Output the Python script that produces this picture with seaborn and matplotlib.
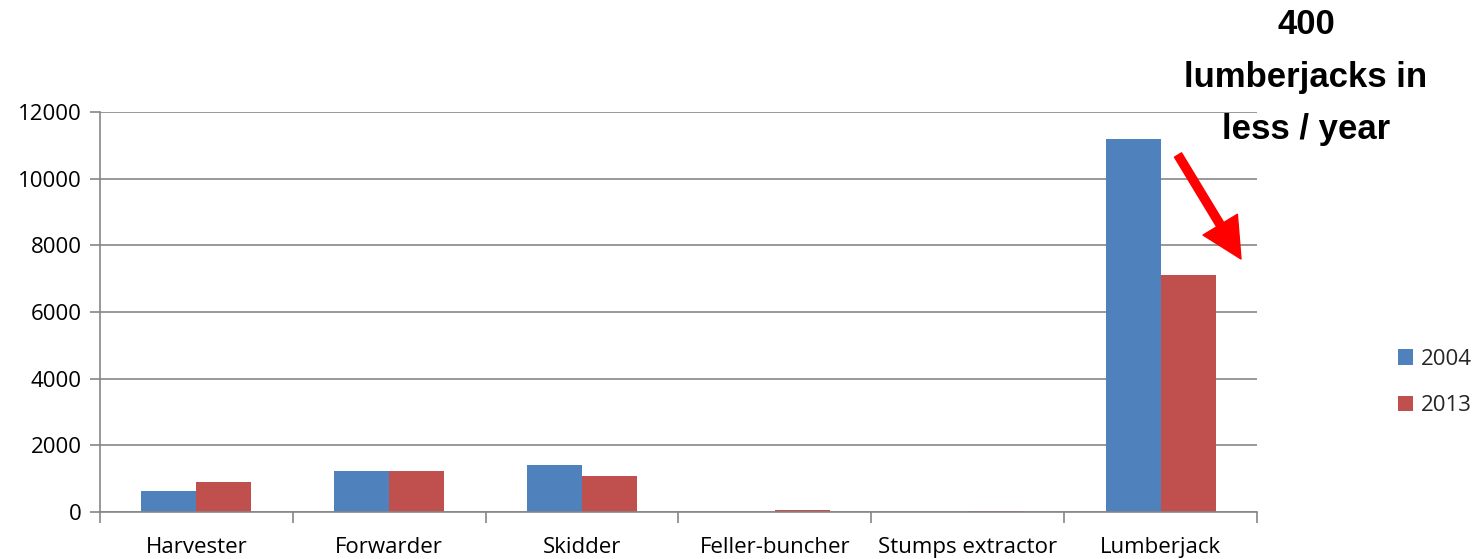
import matplotlib
matplotlib.use("Agg")
import matplotlib.pyplot as plt
import seaborn as sns
import pandas as pd
import numpy as np
from matplotlib.patches import Patch, FancyArrowPatch
from matplotlib import font_manager

categories = ["Harvester", "Forwarder", "Skidder", "Feller-buncher", "Stumps extractor", "Lumberjack"]
values_2004 = [623, 1216, 1397, 0, 0, 11200]
values_2013 = [894, 1236, 1075, 70, 40, 7100]
years = ["2004", "2013"]
y_ticks = [0, 2000, 4000, 6000, 8000, 10000, 12000]

df = pd.DataFrame({
    "category": categories * 2,
    "value": values_2004 + values_2013,
    "year": [years[0]] * len(categories) + [years[1]] * len(categories),
})

sns.set_theme(style="white")
plt.rcParams['font.family'] = ['Open Sans', 'DejaVu Sans']

# bold Liberation Sans (not Narrow)
bold_path = None
for f in font_manager.fontManager.ttflist:
    if f.name == "Liberation Sans" and f.weight in (700, "bold") and "Narrow" not in f.fname and f.style == "normal":
        bold_path = f.fname
        break

fig = plt.figure(figsize=(14.84, 5.59), dpi=100)
ax = fig.add_axes([100/1484, 1-512/559, (1257-100)/1484, 400/559])

palette = {"2004": "#4F81BD", "2013": "#C0504D"}
sns.barplot(data=df, x="category", y="value", hue="year", order=categories,
            hue_order=years, palette=palette, width=0.57, ax=ax,
            legend=False, saturation=1, edgecolor="none")

fs = 16
ax.set_xlim(-0.5, len(categories) - 0.5)
ax.set_ylim(0, 12000)
ax.set_yticks(y_ticks)
ax.set_yticklabels([str(t) for t in y_ticks], fontsize=fs, color="black")
ax.set_xlabel("")
ax.set_ylabel("")
ax.set_axisbelow(True)
ax.yaxis.grid(True, color="#868686", linewidth=1.2)
ax.xaxis.grid(False)
for s in ["top", "right"]:
    ax.spines[s].set_visible(False)
for s in ["left", "bottom"]:
    ax.spines[s].set_color("#868686")
    ax.spines[s].set_linewidth(1.2)

ax.set_xticks(range(len(categories)))
ax.set_xticklabels(categories, fontsize=fs, color="black")
ax.set_xticks(np.arange(-0.5, len(categories)), minor=True)
ax.tick_params(axis="x", which="major", length=0, pad=18)
ax.tick_params(axis="x", which="minor", length=8, width=1.2, color="#868686", direction="out")
ax.tick_params(axis="y", which="major", length=7, width=1.2, color="#868686", direction="out", pad=6)
ax.tick_params(axis="y", left=True)
ax.tick_params(axis="x", bottom=True, which="both")

handles = [Patch(facecolor=palette[y], edgecolor="none", label=y) for y in years]
fig.legend(handles=handles, loc="center left", bbox_to_anchor=(1398/1484, 1-382.5/559),
           frameon=False, fontsize=fs, handlelength=0.68, handleheight=0.68,
           handletextpad=0.35, labelspacing=1.15, borderpad=0, borderaxespad=0)

txt_kw = dict(ha="center", va="center", fontsize=25, color="black", linespacing=1.74)
if bold_path:
    txt_kw["fontproperties"] = font_manager.FontProperties(fname=bold_path, size=25)
else:
    txt_kw["fontweight"] = "bold"
fig.text(1306/1484, 1-77/559, "400\nlumberjacks in\nless / year", **txt_kw)

arrow = FancyArrowPatch((1178/1484, 1-155/559), (1241/1484, 1-259/559),
                        transform=fig.transFigure,
                        arrowstyle="simple,head_width=3.4,head_length=3.4,tail_width=0.7",
                        mutation_scale=8.5, color="#FF0000", shrinkA=0, shrinkB=0)
fig.add_artist(arrow)

fig.savefig("out.png", dpi=100)
